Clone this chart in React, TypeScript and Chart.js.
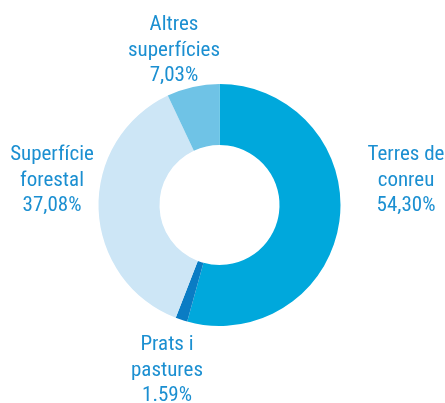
import React, { useEffect, useRef } from "react";
import { Chart, registerables } from "chart.js";

Chart.register(...registerables);

const categories = ["Terres de conreu", "Prats i pastures", "Superfície forestal", "Altres superfícies"];
const values = [54.3, 1.59, 37.08, 7.03];
const valueLabels = ["54,30%", "1.59%", "37,08%", "7,03%"];
const labelLines = [["Terres de", "conreu"], ["Prats i", "pastures"], ["Superfície", "forestal"], ["Altres", "superfícies"]];
const colors = ["#00a8dc", "#0a7cc4", "#cde6f6", "#6fc3e6"];

const labelPos = [
  { x: 406, y: 155 },
  { x: 167, y: 345 },
  { x: 52, y: 155 },
  { x: 174, y: 25 },
];

const FONT = '21px "Liberation Sans Narrow", "Roboto Condensed", "Arial Narrow", "DejaVu Sans Condensed", sans-serif';

const labelPlugin = {
  id: "fixedLabels",
  afterDraw(chart: any) {
    const ctx = chart.ctx;
    ctx.save();
    ctx.font = FONT;
    ctx.fillStyle = "#1b8fd1";
    ctx.textAlign = "center";
    ctx.textBaseline = "middle";
    labelPos.forEach((p, i) => {
      const lines = [...labelLines[i], valueLabels[i]];
      lines.forEach((t, j) => ctx.fillText(t, p.x, p.y + j * 25.5));
    });
    ctx.restore();
  },
};

export default function App() {
  const ref = useRef<HTMLCanvasElement>(null);
  useEffect(() => {
    const chart = new Chart(ref.current!, {
      type: "doughnut",
      data: {
        labels: categories,
        datasets: [{ data: values, backgroundColor: colors, borderWidth: 0 }],
      },
      options: {
        animation: false,
        responsive: false,
        cutout: "49.6%",
        layout: { padding: { left: 98.5, right: 104.5, top: 84, bottom: 77 } },
        plugins: { legend: { display: false }, tooltip: { enabled: false } },
      },
      plugins: [labelPlugin],
    });
    return () => chart.destroy();
  }, []);
  return (
    <div style={{ position: "fixed", left: 0, top: 0, width: 445, height: 403, background: "#fff" }}>
      <canvas ref={ref} width={445} height={403} style={{ width: 445, height: 403 }} />
    </div>
  );
}
